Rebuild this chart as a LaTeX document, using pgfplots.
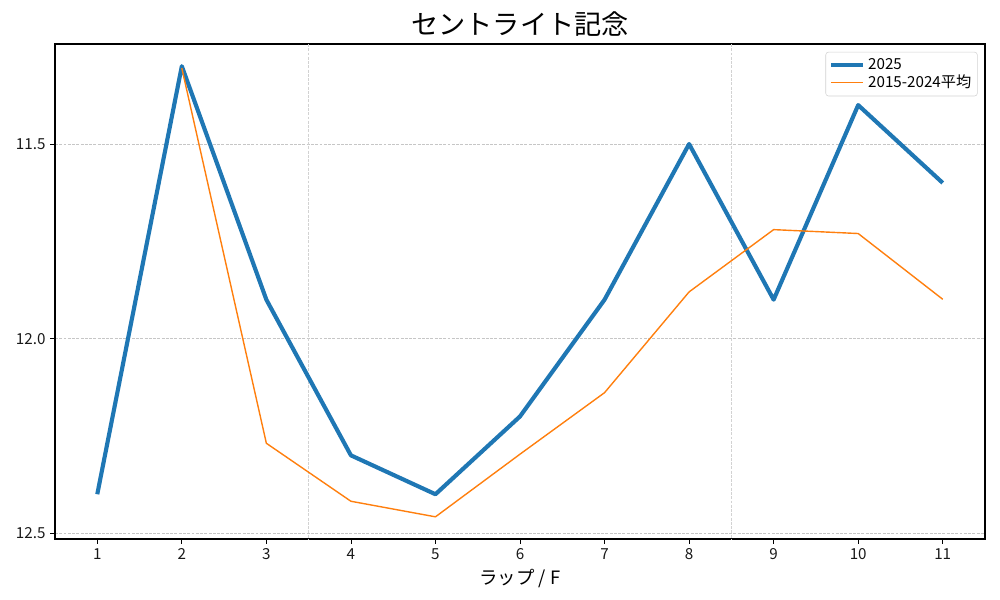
\documentclass[border=0pt]{standalone}
\usepackage{fontspec}
\setmainfont{Noto Sans CJK JP}
\usepackage{pgfplots}
\pgfplotsset{compat=1.18}
\definecolor{mplblue}{HTML}{1F77B4}
\definecolor{mplorange}{HTML}{FF7F0E}
\begin{document}
\begin{tikzpicture}
\begin{axis}[
  at={(0,0)}, anchor=south west,
  scale only axis,
  width=697.5pt, height=371.25pt,
  xmin=0.5, xmax=11.5,
  ymin=11.243, ymax=12.515,
  y dir=reverse,
  xtick={1,...,11},
  ytick={11.5,12.0,12.5},
  yticklabel style={/pgf/number format/.cd,fixed,fixed zerofill,precision=1},
  /pgf/number format/assume math mode=true,
  tick label style={font=\fontsize{11.4pt}{13pt}\selectfont, color=black!90},
  tick align=outside,
  major tick length=3.6pt,
  tick style={black, line width=0.6pt},
  xtick pos=bottom, ytick pos=left,
  axis line style={line width=0.8pt},
  ymajorgrids=true,
  major grid style={gray!45, dash pattern=on 2.2pt off 1pt, line width=0.4pt},
  extra x ticks={3.5,8.5},
  extra x tick labels={},
  extra x tick style={major tick length=0pt, xmajorgrids=true, major grid style={gray!35, dash pattern=on 2.2pt off 1pt, line width=0.4pt}},
  title={セントライト記念},
  title style={font=\fontsize{20.4pt}{24pt}\selectfont, yshift=-4pt},
  xlabel={ラップ / F},
  xlabel style={font=\fontsize{13.8pt}{16pt}\selectfont, yshift=3pt},
  legend style={font=\fontsize{11.4pt}{13pt}\selectfont, draw=gray!35, rounded corners=2pt, at={(0.992,0.984)}, anchor=north east, inner sep=2.5pt, row sep=-1pt},
  legend cell align=left,
  legend image code/.code={\draw[#1] (0cm,0cm) -- (0.85cm,0cm);},
]
\addplot[mplblue, line width=3.1pt, line join=round] coordinates {
(1,12.4) (2,11.3) (3,11.9) (4,12.3) (5,12.4) (6,12.2) (7,11.9) (8,11.5) (9,11.9) (10,11.4) (11,11.6)};
\addlegendentry{2025}
\addplot[mplorange, line width=1.05pt, line join=round] coordinates {
(2,11.305) (3,12.269) (4,12.418) (5,12.458) (6,12.297) (7,12.139) (8,11.880) (9,11.720) (10,11.730) (11,11.899)};
\addlegendentry{2015-2024平均}
\end{axis}
\path[use as bounding box] (-41.25pt,-45.75pt) rectangle (708.75pt,404.25pt);
\end{tikzpicture}
\end{document}
